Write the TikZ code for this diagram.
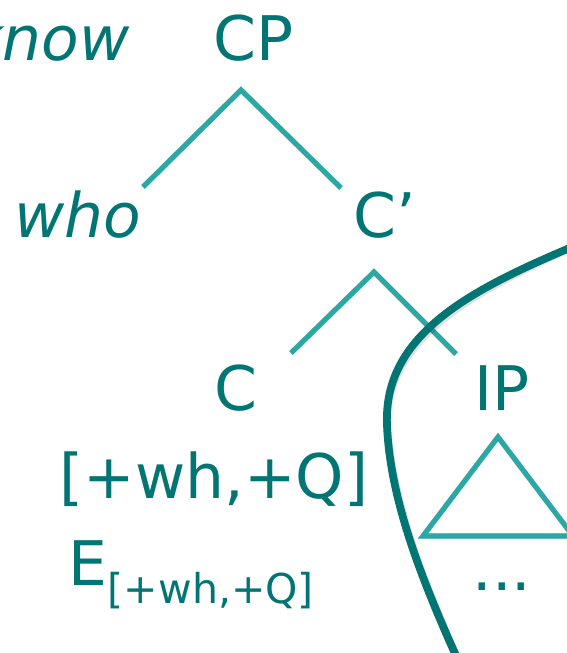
\documentclass[tikz,border=0pt]{standalone}
\usepackage{fontspec}
\setmainfont{DejaVu Sans}
\definecolor{tealtext}{HTML}{007573}
\definecolor{teallight}{HTML}{2AA8A6}
\begin{document}
\begin{tikzpicture}[x=0.02cm,y=-0.02cm,
  lbl/.style={text=tealtext,font=\fontsize{35}{42}\selectfont,inner sep=0pt},
  sublbl/.style={text=tealtext,font=\fontsize{23.4}{28}\selectfont,inner sep=0pt},
  branch/.style={draw=teallight,line width=2.9pt,line cap=butt,line join=miter},
  shadowline/.style={draw=black,opacity=0.12,line width=3.2pt},
  bound/.style={draw=tealtext,line width=4.4pt}]
\clip (0,0) rectangle (567,653);
\fill[white] (0,0) rectangle (567,653);
% text nodes
\node[lbl,anchor=base east] (know) at (130,60) {\itshape know};
\node[lbl,anchor=base] (cp) at (254,60) {CP};
\node[lbl,anchor=base] (who) at (78,237) {\itshape who};
\node[lbl,anchor=base west] (cbar) at (353,237) {C’};
\node[lbl,anchor=base] (c) at (236,410) {C};
\node[lbl,anchor=base] (ip) at (502,410) {IP};
\node[lbl,anchor=base] (feat) at (214,498) {[+wh,+Q]};
\node[lbl,anchor=base west] (e) at (68,585) {E};
\node[sublbl,anchor=base west] (esub) at (e.base east) [yshift=-0.36cm] {[+wh,+Q]};
\node[lbl,anchor=base] (dots) at (502,590) {...};
% branch points
\coordinate (cpA) at (241,90);
\coordinate (cpL) at (143,187);
\coordinate (cpR) at (341,188);
\coordinate (cbA) at (374,272);
\coordinate (cbL) at (291,353);
\coordinate (cbR) at (456,354);
\coordinate (triA) at (498,437);
\coordinate (triL) at (423,536);
\coordinate (triR) at (573,536);
% shadows
\begin{scope}[xshift=0.04cm,yshift=-0.06cm]
\draw[shadowline] (cpL) -- (cpA) -- (cpR);
\draw[shadowline] (cbL) -- (cbA) -- (cbR);
\draw[shadowline] (triA) -- (triL) -- (triR) -- cycle;
\end{scope}
% branches
\draw[branch] (cpL) -- (cpA) -- (cpR);
\draw[branch] (cbL) -- (cbA) -- (cbR);
\draw[branch] (triA) -- (triL) -- (triR) -- cycle;
% boundary curve
\coordinate (bS) at (572,247);
\coordinate (bM) at (387,425);
\coordinate (bE) at (457,658);
\draw[draw=black,opacity=0.12,line width=4.6pt,xshift=0.04cm,yshift=-0.06cm]
  (bS) .. controls (470,290) and (383,335) .. (bM) .. controls (390,500) and (422,580) .. (bE);
\draw[bound] (bS) .. controls (470,290) and (383,335) .. (bM) .. controls (390,500) and (422,580) .. (bE);
\end{tikzpicture}
\end{document}
